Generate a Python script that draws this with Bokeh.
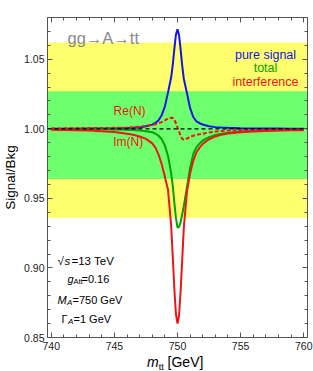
from bokeh.plotting import figure
from bokeh.layouts import column
from bokeh.models import (Range1d, LinearAxis, BoxAnnotation, Span, Label, Div,
                          SingleIntervalTicker, NumeralTickFormatter, ColumnDataSource,
                          CustomLabelingPolicy)
from bokeh.embed import file_html
from bokeh.resources import INLINE

# ---------------- data ----------------
m_tt = [740, 741, 742, 743, 744, 745, 746, 746.5, 747, 747.5, 748, 748.25, 748.5,
        748.75, 749, 749.25, 749.5, 749.625, 749.75, 749.875, 750, 750.125, 750.25,
        750.375, 750.5, 750.75, 751, 751.25, 751.5, 751.75, 752, 752.5, 753, 753.5,
        754, 755, 756, 757, 758, 759, 760]

pure_signal = [1.0001, 1.0001, 1.0001, 1.0002, 1.0002, 1.0003, 1.0005, 1.0007, 1.0010,
               1.0018, 1.0030, 1.0042, 1.0062, 1.0098, 1.0160, 1.0262, 1.0370, 1.0460,
               1.0575, 1.0675, 1.0716, 1.0672, 1.0568, 1.0452, 1.0360, 1.0255, 1.0148,
               1.0085, 1.0053, 1.0040, 1.0031, 1.0019, 1.0012, 1.0009, 1.0007, 1.0004,
               1.0003, 1.0002, 1.0002, 1.0001, 1.0001]

total = [0.9997, 0.9997, 0.9997, 0.9996, 0.9996, 0.9995, 0.9993, 0.9991, 0.9988,
         0.9983, 0.9975, 0.9965, 0.9950, 0.9925, 0.9880, 0.9805, 0.9680, 0.9590,
         0.9470, 0.9360, 0.9290, 0.9295, 0.9330, 0.9385, 0.9445, 0.9580, 0.9720,
         0.9820, 0.9867, 0.9895, 0.9916, 0.9940, 0.9956, 0.9965, 0.9972, 0.9980,
         0.9985, 0.9988, 0.9990, 0.9991, 0.9992]

interference = [0.9993, 0.9992, 0.9990, 0.9988, 0.9983, 0.9977, 0.9965, 0.9957, 0.9945,
                0.9928, 0.9895, 0.9865, 0.9815, 0.9745, 0.9655, 0.9560, 0.9300, 0.9080,
                0.8850, 0.8670, 0.8600, 0.8660, 0.8840, 0.9060, 0.9290, 0.9550, 0.9680,
                0.9770, 0.9830, 0.9865, 0.9892, 0.9925, 0.9945, 0.9958, 0.9966, 0.9976,
                0.9981, 0.9985, 0.9987, 0.9989, 0.9990]

re_part = [1.0003, 1.0003, 1.0004, 1.0005, 1.0006, 1.0007, 1.0009, 1.0011, 1.0015,
           1.0021, 1.0028, 1.0033, 1.0040, 1.0048, 1.0060, 1.0074, 1.0079, 1.0077,
           1.0066, 1.0040, 1.0010, 0.9980, 0.9948, 0.9928, 0.9922, 0.9930, 0.9942,
           0.9950, 0.9956, 0.9961, 0.9965, 0.9974, 0.9980, 0.9984, 0.9987, 0.9990,
           0.9992, 0.9993, 0.9994, 0.9995, 0.9995]

band_1sigma = [0.964, 1.027]
band_2sigma = [0.936, 1.062]
baseline = 1.0

x_ticks_interval = 5
y_ticks_interval = 0.05

# ---------------- figure ----------------
X0, X1 = 739.7, 760.3
Y0, Y1 = 0.85, 1.08
W, H, HDIV = 313, 355, 16
BL, BR, BT, BB = 43, 6, 17, 18
FONT = "Liberation Sans"
AX = "#555555"

src = ColumnDataSource(dict(m=m_tt, sig=pure_signal, tot=total, intf=interference, re=re_part))

p = figure(width=W, height=H, output_backend="svg", toolbar_location=None,
           x_range=Range1d(X0, X1), y_range=Range1d(Y0, Y1),
           min_border_left=BL, min_border_right=BR, min_border_top=BT, min_border_bottom=BB)
p.grid.visible = False
p.outline_line_color = None
p.background_fill_color = "white"

no_labels = CustomLabelingPolicy(code="""
const keep = [...indices]
for (const i of keep) indices.unset(i)
return indices
""")

def style_axis(ax, interval, labels=True):
    ax.ticker = SingleIntervalTicker(interval=interval, num_minor_ticks=5)
    ax.axis_line_color = AX
    ax.major_tick_line_color = AX
    ax.minor_tick_line_color = AX
    ax.major_tick_in = 5
    ax.major_tick_out = 0
    ax.minor_tick_in = 3
    ax.minor_tick_out = 0
    if labels:
        ax.major_label_text_font = FONT
        ax.major_label_text_font_size = "10.5px"
        ax.major_label_text_color = "#222222"
    else:
        ax.major_label_text_font_size = "1px"
        ax.major_label_standoff = 0
        ax.major_label_policy = no_labels

style_axis(p.xaxis[0], x_ticks_interval)
p.xaxis[0].major_label_standoff = 4
style_axis(p.yaxis[0], y_ticks_interval)
p.yaxis[0].formatter = NumeralTickFormatter(format="0.00")
p.yaxis[0].major_label_standoff = 3
p.yaxis[0].axis_label = "Signal/Bkg"
p.yaxis[0].axis_label_text_font = FONT
p.yaxis[0].axis_label_text_font_size = "13.5px"
p.yaxis[0].axis_label_text_font_style = "normal"
p.yaxis[0].axis_label_text_color = "black"
p.yaxis[0].axis_label_standoff = 3

top_ax = LinearAxis()
style_axis(top_ax, x_ticks_interval, labels=False)
p.add_layout(top_ax, "above")
right_ax = LinearAxis()
style_axis(right_ax, y_ticks_interval, labels=False)
p.add_layout(right_ax, "right")

# bands
p.add_layout(BoxAnnotation(bottom=band_2sigma[0], top=band_2sigma[1], fill_color="#ffff6e",
                           fill_alpha=1, line_color=None, level="underlay"))
p.add_layout(BoxAnnotation(bottom=band_1sigma[0], top=band_1sigma[1], fill_color="#6eff6e",
                           fill_alpha=1, line_color=None, level="underlay"))

BLUE = "#1414e6"
GREEN = "#00a300"
RED = "#f01414"

p.line("m", "sig", source=src, line_color=BLUE, line_width=2)
p.line("m", "tot", source=src, line_color=GREEN, line_width=2)
p.line("m", "intf", source=src, line_color=RED, line_width=2)
p.line("m", "re", source=src, line_color=RED, line_width=2, line_dash="4 2")
p.add_layout(Span(location=baseline, dimension="width", line_color="black",
                  line_width=1.3, line_dash="4 3"))

def lab(text, x, y, size, color="black", style="normal", align="left", base="alphabetic",
        xo=0, yo=0):
    p.add_layout(Label(x=x, y=y, x_offset=xo, y_offset=yo, text=text, text_font=FONT,
                       text_font_size=size, text_color=color, text_font_style=style,
                       text_align=align, text_baseline=base))

# title inside
lab("gg→A→tt", X0, Y1, "16.5px", color="#8a8a8a", xo=20, yo=-20.5)

# legend texts
lab("pure signal", X1, Y1, "12.5px", color=BLUE, align="center", xo=-42, yo=-37)
lab("total", X1, Y1, "12.5px", color=GREEN, align="center", xo=-42, yo=-50.5)
lab("interference", X1, Y1, "12.5px", color=RED, align="center", xo=-42, yo=-64)

# curve tags
lab("Re(N)", 746.2, 1.0128, "12px", color=RED, align="center", base="middle")
lab("Im(N)", 746.1, 0.9902, "12px", color=RED, align="center", base="middle")

# parameters block (offsets in px from frame left / bottom)
lab("√", X0, Y0, "11.5px", xo=10, yo=77)
lab("s", X0, Y0, "11.5px", style="italic", xo=17, yo=77)
lab("=13 TeV", X0, Y0, "11.5px", xo=24, yo=77)

lab("g", X0, Y0, "11px", style="italic", xo=20, yo=59)
lab("Att", X0, Y0, "7.5px", xo=26, yo=56.5)
lab("=0.16", X0, Y0, "11px", xo=34, yo=59)

lab("M", X0, Y0, "11px", style="italic", xo=10, yo=38)
lab("A", X0, Y0, "8px", style="italic", xo=19.5, yo=35.5)
lab("=750 GeV", X0, Y0, "11px", xo=25, yo=38)

lab("Γ", X0, Y0, "11px", xo=14, yo=18.5)
lab("A", X0, Y0, "8px", style="italic", xo=20.5, yo=16)
lab("=1 GeV", X0, Y0, "11px", xo=26, yo=18.5)

# x-axis title below the figure
frame_center = BL + (W - BL - BR) / 2
xtitle = Div(
    text='<i>m</i><sub style="font-size:9px;vertical-align:-3px;line-height:0">tt</sub>'
         '&nbsp;[GeV]',
    width=W, height=HDIV, margin=0,
    styles={"font-family": FONT, "font-size": "14px", "line-height": "14px",
            "color": "black", "padding-left": f"{frame_center - 28:.0f}px",
            "white-space": "nowrap"})

layout = column(p, xtitle, spacing=0, margin=0)
open("out.html", "w").write(file_html(layout, INLINE))
